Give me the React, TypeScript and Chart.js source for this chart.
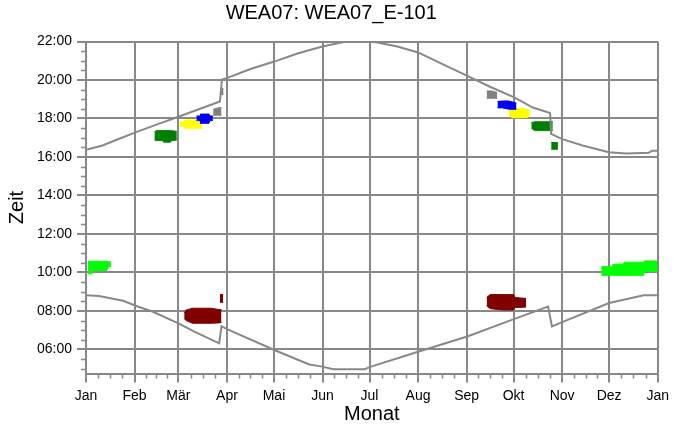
import React, { useEffect, useRef } from "react";
import { Chart, registerables } from "chart.js";

Chart.register(...registerables);

// ---- axes ----
const monthStarts = [0, 31, 59, 90, 120, 151, 181, 212, 243, 273, 304, 334, 365];
const monthLabels = ["Jan", "Feb", "Mär", "Apr", "Mai", "Jun", "Jul", "Aug", "Sep", "Okt", "Nov", "Dez", "Jan"];
const hourTicks = [6, 8, 10, 12, 14, 16, 18, 20, 22];
const hourLabels = ["06:00", "08:00", "10:00", "12:00", "14:00", "16:00", "18:00", "20:00", "22:00"];

// ---- sunset / sunrise (day of year, hour of day) ----
const sunsetDays = [0, 10.5, 20, 31.6, 45, 59, 72, 85.5, 86.8, 90.3, 105, 120.7, 135, 150.9, 164.6, 181, 186, 198.8, 212, 228.3, 243.1, 257.9, 273.7, 285.3, 296.3, 296.9, 303.7, 317, 333.8, 345, 359.2, 361.3, 365];
const sunsetTimes = [16.38, 16.6, 16.91, 17.28, 17.68, 18.09, 18.48, 18.88, 20.03, 20.11, 20.57, 20.97, 21.38, 21.74, 21.97, 22.0, 21.95, 21.74, 21.43, 20.8, 20.23, 19.65, 19.08, 18.57, 18.28, 17.2, 16.94, 16.6, 16.25, 16.18, 16.22, 16.32, 16.32];
const sunriseDays = [0, 8.3, 23.7, 33, 42.7, 59, 68.9, 85, 86.5, 90, 120.6, 142.5, 150, 158, 178, 181, 212, 243.4, 273.6, 295, 297.5, 304, 334, 356, 365];
const sunriseTimes = [8.82, 8.78, 8.53, 8.23, 7.96, 7.35, 6.94, 6.32, 7.2, 7.06, 5.96, 5.22, 5.12, 4.97, 4.97, 5.08, 5.88, 6.67, 7.59, 8.23, 7.2, 7.42, 8.41, 8.82, 8.82];

// ---- shadow flicker periods: days, end time, start time ----
const janGreenDays = [1.3, 3.8, 4, 13.2, 14.3, 15.9];
const janGreenEnd = [10.58, 10.58, 10.58, 10.58, 10.55, 10.55];
const janGreenStart = [9.93, 9.93, 10.1, 10.1, 10.3, 10.3];

const decGreenDays = [329, 336, 336.5, 343, 343.5, 356, 356.5, 365];
const decGreenEnd = [10.3, 10.3, 10.43, 10.43, 10.53, 10.53, 10.6, 10.6];
const decGreenStart = [9.85, 9.85, 9.85, 9.85, 9.85, 9.85, 10.04, 10.04];

const sprGreenDays = [43.7, 45, 49, 49.5, 54, 54.5, 58];
const sprGreenEnd = [17.3, 17.37, 17.37, 17.37, 17.37, 17.37, 17.33];
const sprGreenStart = [16.88, 16.85, 16.85, 16.77, 16.77, 16.85, 16.88];

const sprYellowDays = [60, 62.8, 63, 73.5, 74];
const sprYellowEnd = [17.82, 17.82, 17.92, 17.92, 17.85];
const sprYellowStart = [17.58, 17.58, 17.49, 17.49, 17.6];

const sprBlueDays = [70.5, 73, 73.1, 78.5, 79, 81];
const sprBlueEnd = [18.13, 18.13, 18.23, 18.23, 18.13, 18.13];
const sprBlueStart = [17.89, 17.89, 17.75, 17.75, 17.89, 17.89];

const sprGrayDays = [81.2, 84, 86.5];
const sprGrayEnd = [18.47, 18.55, 18.57];
const sprGrayStart = [18.17, 18.17, 18.17];

const sprGray2Days = [85.5, 87.8];
const sprGray2End = [19.55, 19.55];
const sprGray2Start = [19.24, 19.24];

const sprRedDays = [62.7, 64, 68, 80, 85, 86.5];
const sprRedEnd = [7.9, 8.05, 8.14, 8.14, 8.07, 8.07];
const sprRedStart = [7.6, 7.5, 7.36, 7.36, 7.38, 7.4];

const sprRed2Days = [85.5, 87.6];
const sprRed2End = [8.85, 8.85];
const sprRed2Start = [8.45, 8.45];

const autGrayDays = [255.8, 259, 262.5];
const autGrayEnd = [19.43, 19.43, 19.35];
const autGrayStart = [19.05, 19.05, 19.05];

const autBlueDays = [262.7, 266, 270, 274.8];
const autBlueEnd = [18.88, 18.91, 18.91, 18.8];
const autBlueStart = [18.55, 18.55, 18.48, 18.48];

const autYellowDays = [270, 272, 279, 282, 283.3];
const autYellowEnd = [18.44, 18.53, 18.53, 18.45, 18.39];
const autYellowStart = [18.18, 18.04, 18.04, 18.06, 18.13];

const autGreenDays = [284.3, 286.3, 298];
const autGreenEnd = [17.78, 17.83, 17.83];
const autGreenStart = [17.5, 17.37, 17.37];

const autGreen2Days = [297, 301.3];
const autGreen2End = [16.75, 16.75];
const autGreen2Start = [16.4, 16.4];

const autRedDays = [255.8, 258, 266, 273, 274, 281];
const autRedEnd = [8.7, 8.85, 8.85, 8.85, 8.7, 8.65];
const autRedStart = [8.27, 8.12, 8.05, 8.05, 8.18, 8.2];

const GRID = "#888888";
const FONT = "'Liberation Sans', Arial, Helvetica, sans-serif";

const pts = (xs: number[], ys: number[]) => xs.map((x, i) => ({ x, y: ys[i] }));

const blobs: [number[], number[], number[], string][] = [
  [sprBlueDays, sprBlueEnd, sprBlueStart, "#0000ff"],
  [autBlueDays, autBlueEnd, autBlueStart, "#0000ff"],
  [sprYellowDays, sprYellowEnd, sprYellowStart, "#ffff00"],
  [autYellowDays, autYellowEnd, autYellowStart, "#ffff00"],
  [sprGrayDays, sprGrayEnd, sprGrayStart, "#808080"],
  [sprGray2Days, sprGray2End, sprGray2Start, "#808080"],
  [autGrayDays, autGrayEnd, autGrayStart, "#808080"],
  [sprGreenDays, sprGreenEnd, sprGreenStart, "#008000"],
  [autGreenDays, autGreenEnd, autGreenStart, "#008000"],
  [autGreen2Days, autGreen2End, autGreen2Start, "#008000"],
  [sprRedDays, sprRedEnd, sprRedStart, "#800000"],
  [sprRed2Days, sprRed2End, sprRed2Start, "#800000"],
  [autRedDays, autRedEnd, autRedStart, "#800000"],
  [janGreenDays, janGreenEnd, janGreenStart, "#00ff00"],
  [decGreenDays, decGreenEnd, decGreenStart, "#00ff00"],
];

const minorTicks = {
  id: "minorTicks",
  afterDraw(chart: any) {
    const { ctx } = chart;
    const xs = chart.scales.x;
    const ys = chart.scales.y;
    ctx.save();
    ctx.strokeStyle = GRID;
    ctx.lineWidth = 1.5;
    ctx.beginPath();
    for (let i = 0; i < monthStarts.length - 1; i++) {
      const a = monthStarts[i];
      const b = monthStarts[i + 1];
      for (let k = 1; k < 4; k++) {
        const px = Math.round(xs.getPixelForValue(a + ((b - a) * k) / 4)) + 0.5;
        ctx.moveTo(px, ys.bottom);
        ctx.lineTo(px, ys.bottom + 5);
      }
    }
    for (let h = 5; h < 22; h += 0.5) {
      if (hourTicks.includes(h)) continue;
      const py = Math.round(ys.getPixelForValue(h)) + 0.5;
      ctx.moveTo(xs.left - 5, py);
      ctx.lineTo(xs.left, py);
    }
    ctx.stroke();
    ctx.restore();
  },
};

export default function App() {
  const ref = useRef<HTMLCanvasElement>(null);
  useEffect(() => {
    document.body.style.margin = "0";
    const datasets: any[] = [
      {
        data: pts(sunsetDays, sunsetTimes),
        borderColor: GRID,
        borderWidth: 2,
        pointRadius: 0,
        fill: false,
        tension: 0,
      },
      {
        data: pts(sunriseDays, sunriseTimes),
        borderColor: GRID,
        borderWidth: 2,
        pointRadius: 0,
        fill: false,
        tension: 0,
      },
    ];
    blobs.forEach(([d, e, s, c]) => {
      datasets.push({
        data: pts(d, e),
        borderColor: c,
        backgroundColor: c,
        borderWidth: 1,
        pointRadius: 0,
        fill: false,
      });
      datasets.push({
        data: pts(d, s),
        borderColor: c,
        backgroundColor: c,
        borderWidth: 1,
        pointRadius: 0,
        fill: "-1",
      });
    });

    const chart = new Chart(ref.current!, {
      type: "line",
      data: { datasets },
      plugins: [minorTicks],
      options: {
        animation: false,
        responsive: true,
        maintainAspectRatio: false,
        layout: { padding: { left: 0, right: 11.5, top: 0, bottom: 0 } },
        plugins: {
          legend: { display: false },
          tooltip: { enabled: false },
          title: {
            display: true,
            text: "WEA07: WEA07_E-101",
            color: "#000",
            font: { family: FONT, size: 20, weight: "normal" },
            padding: { top: 1.5, bottom: 16 },
          },
        },
        scales: {
          x: {
            type: "linear",
            min: 0,
            max: 365,
            z: 1,
            afterBuildTicks: (s: any) => {
              s.ticks = monthStarts.map((v) => ({ value: v }));
            },
            afterFit: (s: any) => {
              s.height = 56.5;
            },
            ticks: {
              autoSkip: false,
              maxRotation: 0,
              minRotation: 0,
              padding: 5,
              color: "#000",
              font: { family: FONT, size: 14 },
              callback: (_v: any, i: number) => monthLabels[i],
            },
            grid: { color: GRID, lineWidth: 2, tickLength: 9, drawTicks: true },
            border: { display: true, color: GRID, width: 2 },
            title: {
              display: true,
              text: "Monat",
              color: "#000",
              font: { family: FONT, size: 20 },
              padding: { top: 0, bottom: 3.5 },
            },
          },
          y: {
            type: "linear",
            min: 4.75,
            max: 22,
            z: 1,
            afterBuildTicks: (s: any) => {
              s.ticks = hourTicks.map((v) => ({ value: v }));
            },
            afterFit: (s: any) => {
              s.width = 86;
            },
            ticks: {
              autoSkip: false,
              padding: 5,
              color: "#000",
              font: { family: FONT, size: 14 },
              callback: (_v: any, i: number) => hourLabels[i],
            },
            grid: { color: GRID, lineWidth: 2, tickLength: 9, drawTicks: true },
            border: { display: true, color: GRID, width: 2 },
            title: {
              display: true,
              text: "Zeit",
              color: "#000",
              font: { family: FONT, size: 20 },
              padding: { top: 5, bottom: 0 },
            },
          },
        },
      } as any,
    });
    return () => chart.destroy();
  }, []);
  return (
    <div style={{ position: "fixed", left: 0, top: 0, width: 674, height: 430, background: "#fff" }}>
      <canvas ref={ref} />
    </div>
  );
}
